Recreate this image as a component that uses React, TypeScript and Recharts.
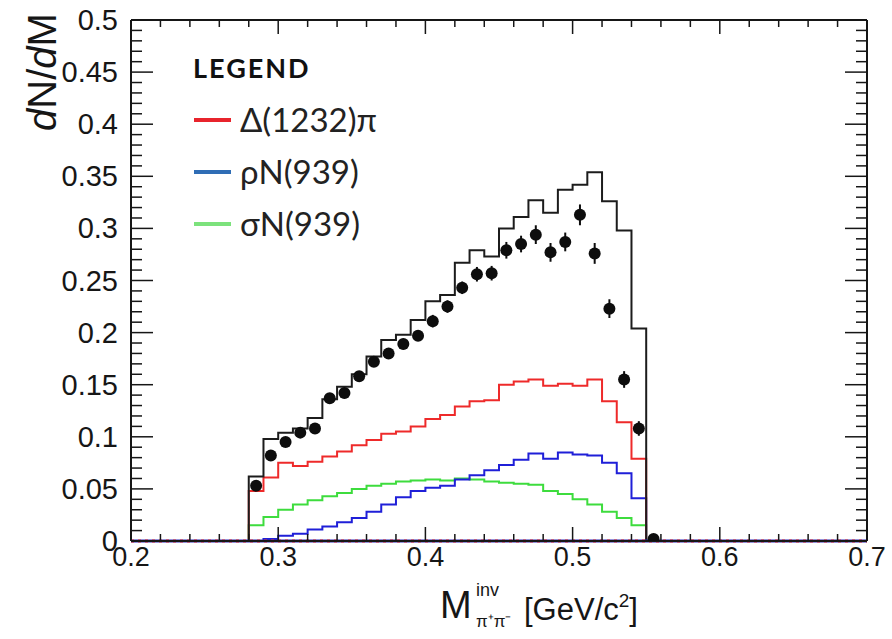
// pi+ pi- invariant mass spectrum: data points against the model histograms.
import React from "react";
import {
  ComposedChart,
  Line,
  Scatter,
  XAxis,
  YAxis,
  ReferenceLine,
} from "recharts";

// lower edges of the 10 MeV mass bins (GeV/c^2)
const binLowEdges = [
  0.28, 0.29, 0.3, 0.31, 0.32, 0.33, 0.34, 0.35, 0.36, 0.37, 0.38, 0.39, 0.4,
  0.41, 0.42, 0.43, 0.44, 0.45, 0.46, 0.47, 0.48, 0.49, 0.5, 0.51, 0.52, 0.53,
  0.54,
];

const totalModel = [
  0.062, 0.098, 0.104, 0.108, 0.118, 0.136, 0.148, 0.16, 0.177, 0.193, 0.198,
  0.212, 0.23, 0.236, 0.267, 0.279, 0.273, 0.3, 0.311, 0.327, 0.315, 0.337,
  0.342, 0.354, 0.326, 0.298, 0.204,
];
const deltaPi = [
  0.048, 0.061, 0.075, 0.072, 0.076, 0.081, 0.086, 0.092, 0.097, 0.103, 0.105,
  0.11, 0.117, 0.121, 0.129, 0.134, 0.135, 0.15, 0.153, 0.155, 0.149, 0.151,
  0.149, 0.155, 0.134, 0.114, 0.079,
];
const rhoN = [
  0.0, 0.002, 0.005, 0.007, 0.011, 0.014, 0.018, 0.022, 0.028, 0.035, 0.042,
  0.048, 0.051, 0.053, 0.059, 0.063, 0.068, 0.073, 0.078, 0.084, 0.079, 0.085,
  0.083, 0.082, 0.075, 0.065, 0.041,
];
const sigmaN = [
  0.015, 0.023, 0.03, 0.035, 0.039, 0.043, 0.046, 0.05, 0.053, 0.055, 0.057,
  0.058, 0.059, 0.058, 0.06, 0.059, 0.057, 0.056, 0.055, 0.054, 0.048, 0.045,
  0.04, 0.035, 0.028, 0.022, 0.015,
];

// measured points at bin centres
const pointMass = [
  0.285, 0.295, 0.305, 0.315, 0.325, 0.335, 0.345, 0.355, 0.365, 0.375, 0.385,
  0.395, 0.405, 0.415, 0.425, 0.435, 0.445, 0.455, 0.465, 0.475, 0.485, 0.495,
  0.505, 0.515, 0.525, 0.535, 0.545, 0.555,
];
const pointDnDm = [
  0.053, 0.082, 0.095, 0.104, 0.108, 0.137, 0.142, 0.158, 0.172, 0.18, 0.189,
  0.197, 0.211, 0.225, 0.243, 0.256, 0.257, 0.279, 0.285, 0.294, 0.277, 0.287,
  0.313, 0.276, 0.223, 0.155, 0.108, 0.002,
];
const pointErr = [
  0.004, 0.004, 0.004, 0.004, 0.004, 0.005, 0.005, 0.005, 0.005, 0.005, 0.005,
  0.005, 0.006, 0.006, 0.006, 0.007, 0.007, 0.008, 0.008, 0.009, 0.009, 0.009,
  0.01, 0.01, 0.009, 0.008, 0.007, 0.002,
];

const xTicks = Array.from({ length: 26 }, (_, i) => +(0.2 + i * 0.02).toFixed(2));
const yTicks = Array.from({ length: 51 }, (_, i) => +(i * 0.01).toFixed(2));

// one row per bin edge over the full axis range, empty bins at zero
const histRows = Array.from({ length: 51 }, (_, i) => {
  const x = +(0.2 + i * 0.01).toFixed(2);
  const k = binLowEdges.indexOf(x);
  return {
    x,
    total: k >= 0 ? totalModel[k] : 0,
    delta: k >= 0 ? deltaPi[k] : 0,
    rho: k >= 0 ? rhoN[k] : 0,
    sigma: k >= 0 ? sigmaN[k] : 0,
  };
});

const points = pointMass.map((x, i) => ({ x, y: pointDnDm[i], err: pointErr[i] }));

const W = 892;
const H = 639;
const PLOT_TOP = 20;
const AXIS_FONT = "'Liberation Sans', Arial, Helvetica, sans-serif";
const LEGEND_FONT = "Lato, 'Open Sans', sans-serif";
const INK = "#161616";

const onStep = (v: number, step: number) =>
  Math.abs(v / step - Math.round(v / step)) < 1e-6;

const fmt = (v: number) => String(+v.toFixed(2));

// bottom axis tick, mirrored on the top edge of the frame
const BottomTick = ({ x, y, payload }: any) => {
  const major = onStep(payload.value, 0.1);
  const len = major ? 14 : 7;
  return (
    <g>
      <line x1={x} x2={x} y1={y} y2={y - len} stroke={INK} strokeWidth={1.5} />
      <line x1={x} x2={x} y1={PLOT_TOP} y2={PLOT_TOP + len} stroke={INK} strokeWidth={1.5} />
      {major && (
        <text x={x} y={y + 25} textAnchor="middle" fontSize={27} fontFamily={AXIS_FONT} fill={INK}>
          {payload.value.toFixed(1)}
        </text>
      )}
    </g>
  );
};

const LeftTick = ({ x, y, payload }: any) => {
  const major = onStep(payload.value, 0.05);
  return (
    <g>
      <line x1={x} x2={x + (major ? 22 : 11)} y1={y} y2={y} stroke={INK} strokeWidth={1.5} />
      {major && (
        <text x={x - 13} y={y + 10} textAnchor="end" fontSize={29} fontFamily={AXIS_FONT} fill={INK}>
          {fmt(payload.value)}
        </text>
      )}
    </g>
  );
};

const RightTick = ({ x, y, payload }: any) => {
  const major = onStep(payload.value, 0.05);
  return <line x1={x} x2={x - (major ? 22 : 11)} y1={y} y2={y} stroke={INK} strokeWidth={1.5} />;
};

const DataDot = (p: any) => {
  if (!p.payload || !Number.isFinite(p.cx) || !Number.isFinite(p.cy)) return <g />;
  return <circle cx={p.cx} cy={p.cy} r={6} fill="#0d0d0d" />;
};

const legendItems = [
  { label: "Δ(1232)π", color: "#e8242c", y: 120 },
  { label: "ρN(939)", color: "#2f6db5", y: 172 },
  { label: "σN(939)", color: "#7ce27c", y: 224 },
];

const axisLine = { stroke: INK, strokeWidth: 2 };

export default function App() {
  return (
    <div style={{ position: "absolute", left: 0, top: 0, width: W, height: H, background: "#fff" }}>
      <ComposedChart width={W} height={H} data={histRows} margin={{ top: PLOT_TOP, right: 0, bottom: 0, left: 0 }}>
        <XAxis
          dataKey="x"
          type="number"
          domain={[0.2, 0.7]}
          ticks={xTicks}
          interval={0}
          height={98}
          tickSize={0}
          tickMargin={0}
          tickLine={false}
          axisLine={axisLine}
          tick={BottomTick}
          allowDataOverflow
        />
        <YAxis
          type="number"
          domain={[0, 0.5]}
          ticks={yTicks}
          interval={0}
          width={131}
          tickSize={0}
          tickMargin={0}
          tickLine={false}
          axisLine={axisLine}
          tick={LeftTick}
          allowDataOverflow
        />
        <YAxis
          yAxisId="right"
          orientation="right"
          type="number"
          domain={[0, 0.5]}
          ticks={yTicks}
          interval={0}
          width={25}
          tickSize={0}
          tickMargin={0}
          tickLine={false}
          axisLine={axisLine}
          tick={RightTick}
          allowDataOverflow
        />
        {/* top edge of the frame */}
        <ReferenceLine y={0.5} stroke={INK} strokeWidth={2} />
        <Line type="stepAfter" dataKey="sigma" stroke="#3ddc3d" strokeWidth={2} dot={false} isAnimationActive={false} />
        <Line type="stepAfter" dataKey="rho" stroke="#1f1fd8" strokeWidth={2} dot={false} isAnimationActive={false} />
        <Line type="stepAfter" dataKey="delta" stroke="#ee2a2a" strokeWidth={2} dot={false} isAnimationActive={false} />
        <Line type="stepAfter" dataKey="total" stroke="#1c1c1c" strokeWidth={2} dot={false} isAnimationActive={false} />
        <ReferenceLine y={0} stroke="#2a2ab8" strokeWidth={3} />
        <ReferenceLine y={0} stroke="#e03030" strokeWidth={3} strokeDasharray="3 4" />
        {/* vertical error bars of the measured points */}
        {points.map((p) => (
          <ReferenceLine
            key={p.x}
            segment={[
              { x: p.x, y: p.y - p.err },
              { x: p.x, y: p.y + p.err },
            ]}
            stroke="#0d0d0d"
            strokeWidth={2}
            ifOverflow="visible"
          />
        ))}
        <Scatter data={points} dataKey="y" isAnimationActive={false} shape={DataDot} />
      </ComposedChart>

      <svg
        width={W}
        height={H}
        style={{ position: "absolute", left: 0, top: 0, pointerEvents: "none" }}
      >
        <text
          x={56}
          y={72}
          transform="rotate(-90 56 72)"
          textAnchor="middle"
          fontSize={40}
          fontFamily={AXIS_FONT}
          fill={INK}
        >
          <tspan fontStyle="italic">d</tspan>N/<tspan fontStyle="italic">d</tspan>M
        </text>

        <text x={440} y={618} fontSize={38} fontFamily={AXIS_FONT} fill={INK}>M</text>
        <text x={476} y={596} fontSize={18} fontFamily={AXIS_FONT} fill={INK}>inv</text>
        <text x={476} y={627} fontSize={17} fontFamily={AXIS_FONT} fill={INK}>π⁺π⁻</text>
        <text x={524} y={620} fontSize={31} fontFamily={AXIS_FONT} fill={INK}>
          [GeV/c<tspan fontSize={19} dy={-13}>2</tspan><tspan dy={13}>]</tspan>
        </text>

        <text x={193} y={78} fontSize={27} fontWeight={700} letterSpacing={2} fontFamily={LEGEND_FONT} fill="#111">
          LEGEND
        </text>
        {legendItems.map((item) => (
          <g key={item.label}>
            <line x1={194} x2={231} y1={item.y} y2={item.y} stroke={item.color} strokeWidth={4} />
            <text x={240} y={item.y + 12} fontSize={33} fontFamily={LEGEND_FONT} fill="#222">
              {item.label}
            </text>
          </g>
        ))}
      </svg>
    </div>
  );
}
